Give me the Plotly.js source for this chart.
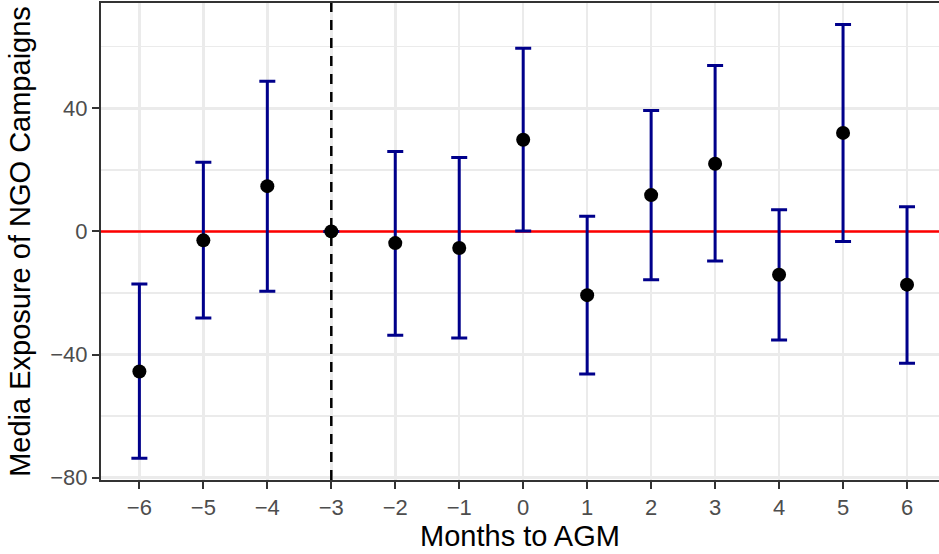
<!DOCTYPE html>
<html>
<head>
<meta charset="utf-8">
<script src="https://cdn.plot.ly/plotly-3.0.1.min.js"></script>
<style>
  html, body { margin: 0; padding: 0; background: #ffffff; }
  #chart { width: 939px; height: 554px; }
</style>
</head>
<body>
<div id="chart"></div>
<script>
// Months relative to AGM
const months = [-6, -5, -4, -3, -2, -1, 0, 1, 2, 3, 4, 5, 6];
// Point estimates
const estimate = [-45.5, -2.9, 14.7, 0, -3.8, -5.4, 29.8, -20.7, 11.8, 22.0, -14.1, 32.0, -17.3];
// Confidence interval bounds
const lower = [-73.7, -28.1, -19.4, 0, -33.7, -34.6, 0.1, -46.3, -15.7, -9.6, -35.3, -3.3, -42.8];
const upper = [-17.1, 22.5, 48.8, 0, 26.0, 24.0, 59.5, 4.9, 39.3, 53.9, 7.0, 67.2, 8.0];
// Reference lines
const refMonth = -3;
const refValue = 0;
// Axis ranges
const xRange = [-6.6, 6.5];
const yRange = [-80.75, 74.2];

const errPlus = upper.map((u, i) => u - estimate[i]);
const errMinus = estimate.map((e, i) => e - lower[i]);

const FONT = '"Liberation Sans", Arial, Helvetica, sans-serif';

const hLine = {
  type: 'scatter', mode: 'lines',
  x: xRange, y: [refValue, refValue],
  line: { color: '#FF0000', width: 2.5 },
  hoverinfo: 'skip', showlegend: false
};

const vLine = {
  type: 'scatter', mode: 'lines',
  x: [refMonth, refMonth], y: yRange,
  line: { color: '#000000', width: 2.5, dash: '10px,8px' },
  hoverinfo: 'skip', showlegend: false
};

const trace = {
  type: 'scatter',
  mode: 'markers',
  x: months,
  y: estimate,
  marker: { color: '#000000', size: 14 },
  error_y: {
    type: 'data',
    symmetric: false,
    array: errPlus,
    arrayminus: errMinus,
    color: '#00008B',
    thickness: 3,
    width: 8
  },
  hoverinfo: 'x+y',
  showlegend: false
};

const layout = {
  width: 939,
  height: 554,
  margin: { l: 101, r: 0, t: 3, b: 74 },
  paper_bgcolor: '#ffffff',
  plot_bgcolor: '#ffffff',
  font: { family: FONT, color: '#000000' },
  showlegend: false,
  xaxis: {
    range: xRange,
    tickmode: 'linear',
    tick0: 0,
    dtick: 1,
    showgrid: true,
    gridcolor: '#EBEBEB',
    gridwidth: 2.5,
    zeroline: false,
    showline: true,
    linecolor: '#333333',
    linewidth: 2,
    mirror: true,
    ticks: 'outside',
    ticklen: 7,
    tickwidth: 2,
    tickcolor: '#333333',
    tickfont: { family: FONT, size: 22, color: '#4D4D4D' },
    title: { text: 'Months to AGM', font: { family: FONT, size: 29, color: '#000000' }, standoff: 5 }
  },
  yaxis: {
    range: yRange,
    tickmode: 'linear',
    tick0: 0,
    dtick: 40,
    showgrid: true,
    gridcolor: '#EBEBEB',
    gridwidth: 2.5,
    minor: { tickmode: 'linear', tick0: 0, dtick: 20, showgrid: true, gridcolor: '#EBEBEB', gridwidth: 1.3, ticks: '' },
    zeroline: false,
    showline: true,
    linecolor: '#333333',
    linewidth: 2,
    mirror: false,
    ticks: 'outside',
    ticklen: 7,
    tickwidth: 2,
    tickcolor: '#333333',
    tickfont: { family: FONT, size: 22, color: '#4D4D4D' },
    title: { text: 'Media Exposure of NGO Campaigns', font: { family: FONT, size: 29, color: '#000000' }, standoff: 11 }
  }
};

Plotly.newPlot('chart', [hLine, vLine, trace], layout, { displayModeBar: false, staticPlot: true });
</script>
</body>
</html>
